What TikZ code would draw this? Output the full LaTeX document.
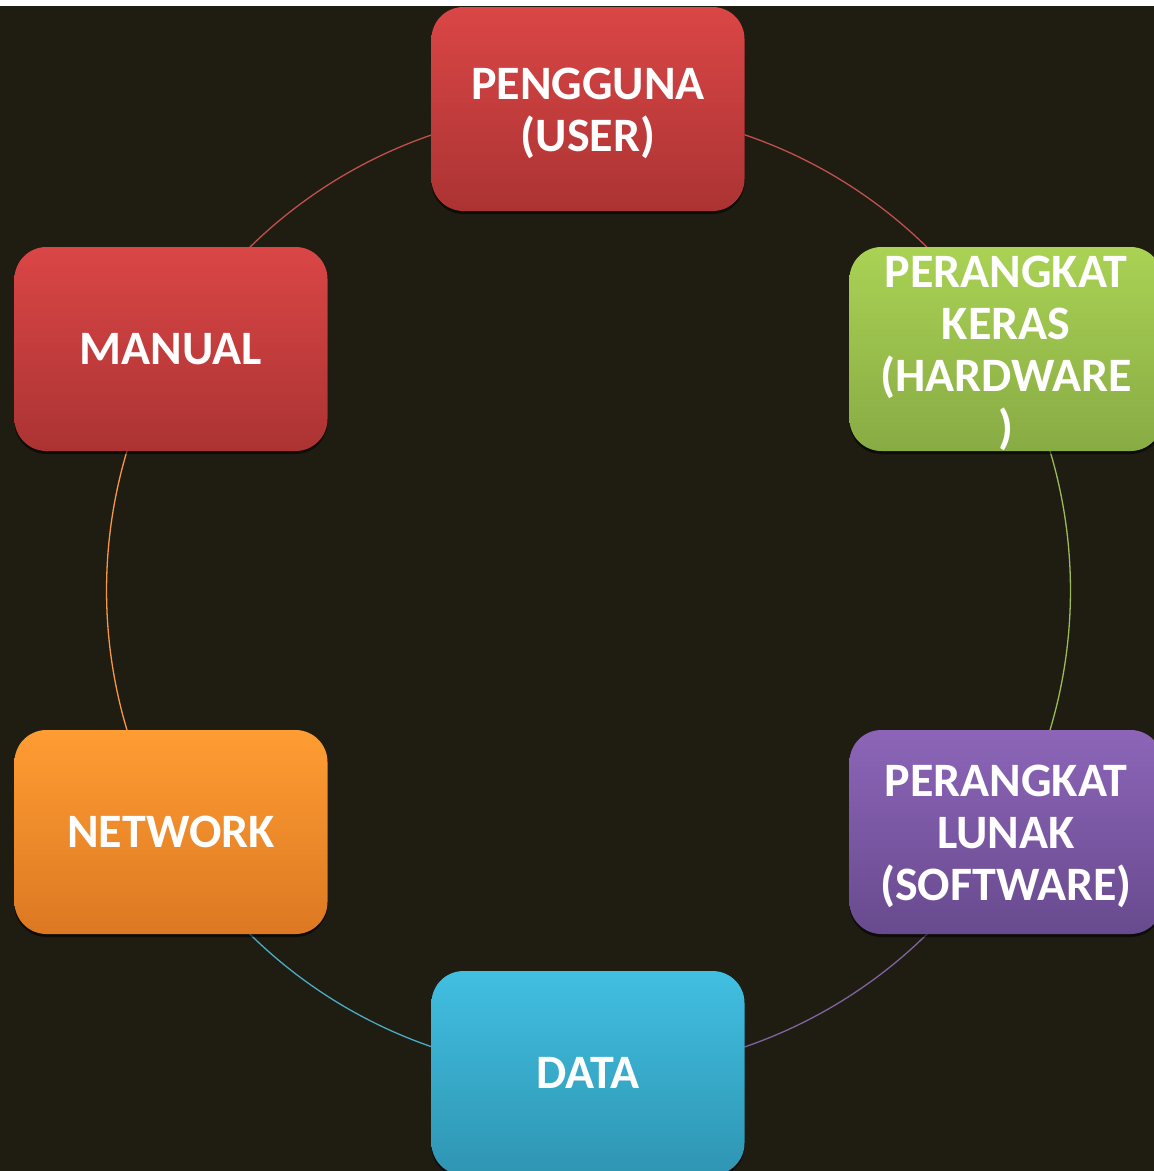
\documentclass[tikz,border=0pt]{standalone}
\usepackage{fontspec}
\setmainfont{Carlito}
\usetikzlibrary{backgrounds,shadows}
\definecolor{bgc}{HTML}{1F1C12}
\definecolor{redT}{HTML}{DA4646}
\definecolor{redB}{HTML}{AC3333}
\definecolor{grnT}{HTML}{AAD254}
\definecolor{grnB}{HTML}{88AB44}
\definecolor{purT}{HTML}{8C65B8}
\definecolor{purB}{HTML}{684A8E}
\definecolor{cyaT}{HTML}{41BFE1}
\definecolor{cyaB}{HTML}{2F95B3}
\definecolor{orgT}{HTML}{FF9D33}
\definecolor{orgB}{HTML}{DC7822}
\definecolor{redL}{HTML}{C0504D}
\definecolor{grnL}{HTML}{9BBB59}
\definecolor{purL}{HTML}{8064A2}
\definecolor{cyaL}{HTML}{4BACC6}
\definecolor{orgL}{HTML}{F79646}
\tikzset{
  cbox/.style={rounded corners=32pt, minimum width=313pt, minimum height=204pt,
    inner sep=0pt, text=white, align=center,
    font=\fontsize{48}{52}\selectfont\bfseries,
    drop shadow={opacity=0.55, shadow xshift=0pt, shadow yshift=-3pt, fill=black}},
  arcline/.style={line width=1.3pt, bend left=30, looseness=0.9126}
}
\begin{document}
\begin{tikzpicture}[x=1pt,y=-1pt]
\useasboundingbox (0,0) rectangle (1154,1171);
\node[cbox, top color=redT, bottom color=redB] (user) at (588,109) {\rule{0pt}{40pt}PENGGUNA\\(USER)};
\node[cbox, top color=grnT, bottom color=grnB] (hw) at (1006,349) {\rule{0pt}{40pt}PERANGKAT\\KERAS\\(HARDWARE\\)};
\node[cbox, top color=purT, bottom color=purB] (sw) at (1006,832) {\rule{0pt}{40pt}PERANGKAT\\LUNAK\\(SOFTWARE)};
\node[cbox, top color=cyaT, bottom color=cyaB] (data) at (588,1073) {DATA};
\node[cbox, top color=orgT, bottom color=orgB] (net) at (171,832) {NETWORK};
\node[cbox, top color=redT, bottom color=redB] (man) at (171,349) {MANUAL};
\begin{scope}[on background layer]
  \fill[bgc] (0,0) rectangle (1154,1171);
  \fill[white] (0,0) rectangle (1154,6);
  \draw[arcline, redL] (user.center) to (hw.center);
  \draw[arcline, grnL] (hw.center) to (sw.center);
  \draw[arcline, purL] (sw.center) to (data.center);
  \draw[arcline, cyaL] (data.center) to (net.center);
  \draw[arcline, orgL] (net.center) to (man.center);
  \draw[arcline, redL] (man.center) to (user.center);
\end{scope}
\end{tikzpicture}
\end{document}
